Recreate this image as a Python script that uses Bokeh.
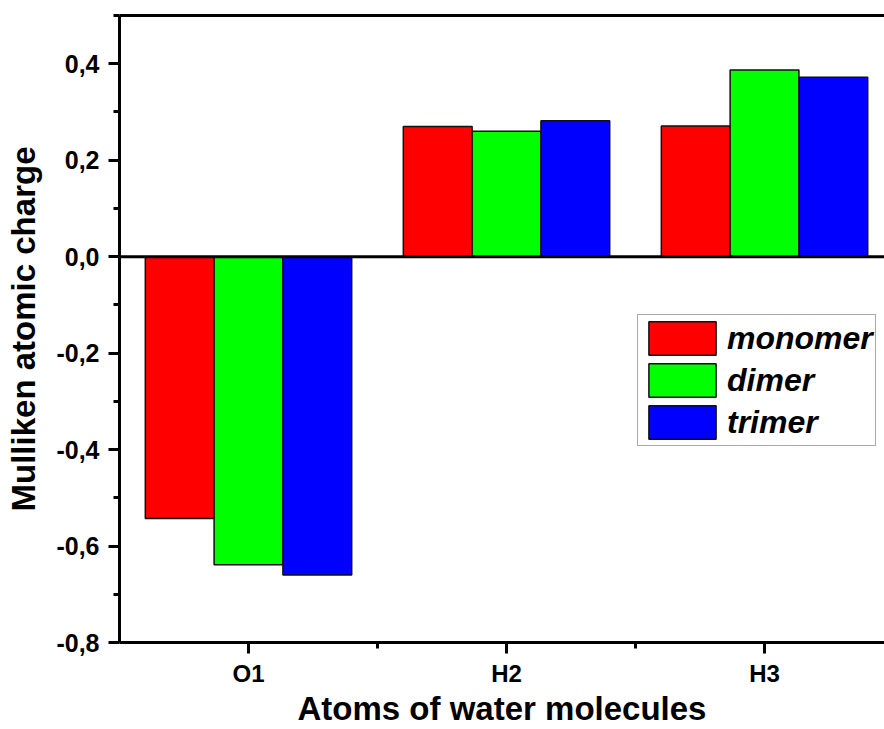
from bokeh.plotting import figure
from bokeh.models import (FixedTicker, CustomJSTickFormatter, Span, Legend, LegendItem,
                          LinearAxis, Range1d, ColumnDataSource)
from bokeh.embed import file_html
from bokeh.resources import INLINE

atoms = ["O1", "H2", "H3"]
series_names = ["monomer", "dimer", "trimer"]
monomer = [-0.543, 0.270, 0.271]
dimer = [-0.639, 0.260, 0.387]
trimer = [-0.660, 0.282, 0.372]
colors = ["#FF0000", "#00FF00", "#0000FF"]
y_ticks = [-0.8, -0.6, -0.4, -0.2, 0.0, 0.2, 0.4]
y_minor = [-0.7, -0.5, -0.3, -0.1, 0.1, 0.3, 0.5]

W, H = 884, 729
p = figure(width=W, height=H, output_backend="svg", toolbar_location=None,
           x_range=Range1d(0.5, 3.465), y_range=Range1d(-0.8, 0.5),
           min_border_left=119, min_border_right=0, min_border_top=15, min_border_bottom=85)
p.grid.visible = False
p.outline_line_color = None
p.background_fill_color = "white"

xpos = [i + 1 for i in range(len(atoms))]
bw = 0.8 / 3
offsets = [-bw, 0.0, bw]
renderers = []
for name, vals, col, off in zip(series_names, [monomer, dimer, trimer], colors, offsets):
    src = ColumnDataSource(dict(x=[x + off for x in xpos], top=vals))
    r = p.vbar(x="x", top="top", bottom=0, width=bw, source=src,
               fill_color=col, line_color="#111111", line_width=1.5)
    renderers.append((name, r))

p.add_layout(Span(location=0, dimension="width", line_color="black", line_width=3))

font = "Liberation Sans"
# x axis
xa = p.xaxis[0]
xa.ticker = FixedTicker(ticks=xpos, minor_ticks=[1.5, 2.5])
xa.major_label_overrides = {x: a for x, a in zip(xpos, atoms)}
xa.axis_label = "Atoms of water molecules"
# y axis
ya = p.yaxis[0]
ya.ticker = FixedTicker(ticks=y_ticks, minor_ticks=y_minor)
ya.formatter = CustomJSTickFormatter(code="return tick.toFixed(1).replace('.', ',');")
ya.axis_label = "Mulliken atomic charge"

for ax in (xa, ya):
    ax.axis_line_width = 3
    ax.axis_line_color = "black"
    ax.major_tick_line_width = 3
    ax.minor_tick_line_width = 3
    ax.major_tick_out = 11
    ax.major_tick_in = 0
    ax.minor_tick_out = 6
    ax.minor_tick_in = 0
    ax.major_label_text_font = font
    ax.major_label_text_font_style = "bold"
    ax.major_label_text_color = "black"
    ax.axis_label_text_font = font
    ax.axis_label_text_font_style = "bold"
    ax.axis_label_text_font_size = "33px"
    ax.axis_label_text_color = "black"
xa.major_label_text_font_size = "24px"
ya.major_label_text_font_size = "25px"
xa.major_label_standoff = 6
xa.axis_label_standoff = 0
ya.major_label_standoff = 9
ya.axis_label_standoff = 11

top = LinearAxis(ticker=FixedTicker(ticks=[]), axis_line_width=3, axis_line_color="black",
                 major_tick_line_color=None, minor_tick_line_color=None,
                 major_label_text_font_size="0px")
p.add_layout(top, "above")

legend = Legend(items=[LegendItem(label=n, renderers=[r]) for n, r in renderers],
                location=(518, 196), orientation="vertical",
                glyph_width=84, glyph_height=42, label_standoff=3,
                label_text_font=font, label_text_font_style="bold italic",
                label_text_font_size="32px", label_text_color="black",
                padding=2, spacing=0, margin=0,
                border_line_color="#555555", border_line_width=1.5,
                background_fill_color="white", background_fill_alpha=1)
p.add_layout(legend, "center")

open("out.html", "w").write(file_html(p, INLINE))
